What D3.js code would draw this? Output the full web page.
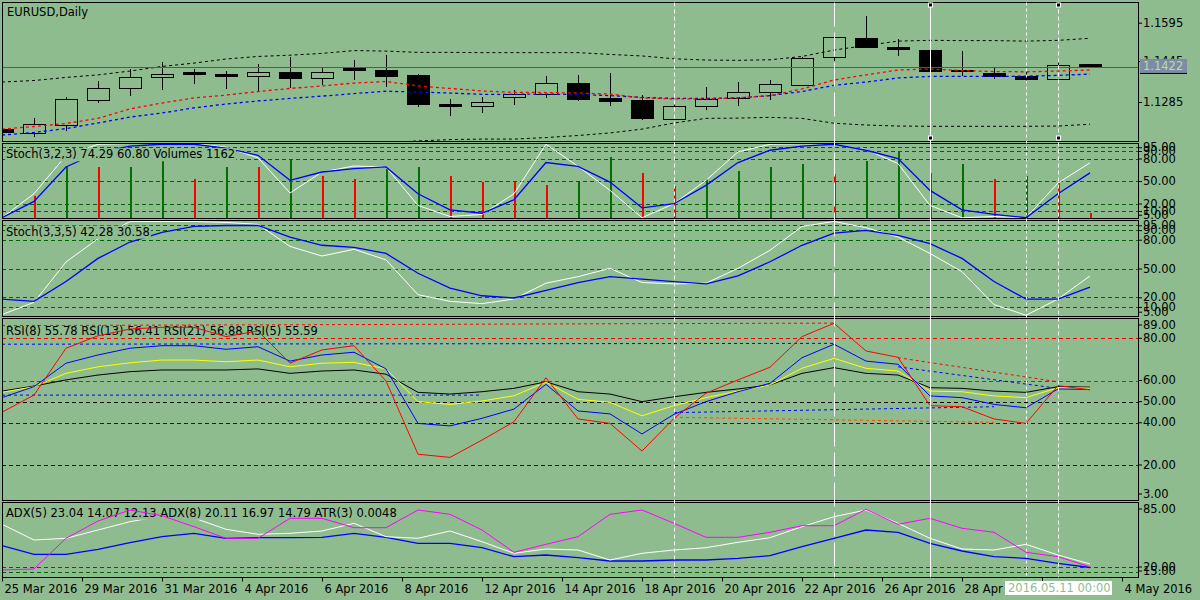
<!DOCTYPE html>
<html>
<head>
<meta charset="utf-8">
<script src="https://cdn.jsdelivr.net/npm/d3@7"></script>
<style>
  body { margin: 0; background: #8fbc8f; }
  svg text { font-family: "DejaVu Sans", sans-serif; font-size: 11.5px; }
</style>
</head>
<body>
<svg id="chart"></svg>
<script>
// EURUSD daily candles, one per bar index
var candleOpen  = [1.1176, 1.1163, 1.1192, 1.1292, 1.1337, 1.1382, 1.1402, 1.1391, 1.1384, 1.1402, 1.1376, 1.1419, 1.1410, 1.1387, 1.1277, 1.1267, 1.1303, 1.1316, 1.1359, 1.1297, 1.1289, 1.1217, 1.1267, 1.1299, 1.1323, 1.1349, 1.1460, 1.1534, 1.1500, 1.1488, 1.1409, 1.1398, 1.1385, 1.1374, 1.1430];
var candleHigh  = [1.1183, 1.1222, 1.1305, 1.1367, 1.1413, 1.1441, 1.1414, 1.1406, 1.1434, 1.1460, 1.1419, 1.1449, 1.1469, 1.1394, 1.1297, 1.1305, 1.1332, 1.1387, 1.1391, 1.1398, 1.1312, 1.1281, 1.1342, 1.1363, 1.1371, 1.1460, 1.1538, 1.1621, 1.1530, 1.1495, 1.1484, 1.1419, 1.1414, 1.1448, 1.1430];
var candleLow   = [1.1160, 1.1149, 1.1172, 1.1282, 1.1310, 1.1333, 1.1357, 1.1337, 1.1327, 1.1339, 1.1350, 1.1371, 1.1345, 1.1267, 1.1231, 1.1243, 1.1274, 1.1302, 1.1290, 1.1269, 1.1215, 1.1217, 1.1254, 1.1269, 1.1293, 1.1349, 1.1446, 1.1497, 1.1466, 1.1384, 1.1385, 1.1375, 1.1360, 1.1374, 1.1417];
var candleClose = [1.1165, 1.1198, 1.1293, 1.1339, 1.1382, 1.1393, 1.1392, 1.1384, 1.1401, 1.1376, 1.1401, 1.1407, 1.1384, 1.1274, 1.1267, 1.1284, 1.1314, 1.1358, 1.1294, 1.1286, 1.1220, 1.1268, 1.1296, 1.1323, 1.1354, 1.1456, 1.1538, 1.1497, 1.1489, 1.1403, 1.1403, 1.1385, 1.1372, 1.1428, 1.1422];

// moving averages and bands on the price pane
var maFast  = [1.1179, 1.1189, 1.1201, 1.1221, 1.1258, 1.1281, 1.1301, 1.1312, 1.1326, 1.1338, 1.1348, 1.1359, 1.1365, 1.1348, 1.1338, 1.1328, 1.1323, 1.1322, 1.1320, 1.1316, 1.1301, 1.1297, 1.1297, 1.1301, 1.1310, 1.1336, 1.1371, 1.1391, 1.1410, 1.1414, 1.1408, 1.1404, 1.1403, 1.1406, 1.1410];
var maSlow  = [1.1156, 1.1166, 1.1181, 1.1203, 1.1226, 1.1242, 1.1262, 1.1277, 1.1289, 1.1299, 1.1308, 1.1318, 1.1327, 1.1324, 1.1320, 1.1315, 1.1315, 1.1316, 1.1314, 1.1310, 1.1303, 1.1299, 1.1299, 1.1301, 1.1310, 1.1326, 1.1350, 1.1363, 1.1379, 1.1385, 1.1385, 1.1385, 1.1386, 1.1389, 1.1394];
var bandUp  = [1.1363, 1.1369, 1.1381, 1.1391, 1.1406, 1.1424, 1.1437, 1.1453, 1.1463, 1.1468, 1.1475, 1.1486, 1.1484, 1.1479, 1.1479, 1.1478, 1.1478, 1.1478, 1.1478, 1.1471, 1.1465, 1.1454, 1.1449, 1.1448, 1.1450, 1.1463, 1.1488, 1.1506, 1.1523, 1.1526, 1.1525, 1.1525, 1.1523, 1.1526, 1.1534];
var bandLow = [1.0941, 1.0949, 1.0961, 1.0972, 1.0988, 1.1004, 1.1019, 1.1039, 1.1058, 1.1078, 1.1097, 1.1113, 1.1125, 1.1133, 1.1138, 1.1140, 1.1140, 1.1146, 1.1154, 1.1164, 1.1179, 1.1203, 1.1221, 1.1222, 1.1225, 1.1221, 1.1202, 1.1195, 1.1191, 1.1190, 1.1190, 1.1190, 1.1190, 1.1191, 1.1198];
var priceTicks = [1.1595, 1.1445, 1.1285];

// Stoch(3,2,3) + Volumes
var volumes = [9000, 5060, 11660, 11290, 11440, 13130, 8730, 11440, 11290, 13130, 9460, 8730, 10930, 11290, 9310, 8140, 7990, 7480, 8070, 13640, 9970, 7260, 8800, 10560, 11440, 12100, 9750, 12760, 14960, 10120, 12100, 8800, 9310, 7770, 1162];
var stochAMain   = [1, 33, 84, 99, 100, 100, 100, 95, 81, 34, 62, 70, 68.7, 17.4, 2.7, 5.4, 33, 99, 69.6, 37.5, 1, 19.7, 50.9, 88.8, 99, 99.7, 99, 92, 73.2, 17.4, 1, 2.7, 1, 47.3, 74.29];
var stochASignal = [1, 22.8, 68.7, 88, 96.4, 99, 99, 93.7, 84.3, 50.9, 62, 66.5, 68.7, 33, 11.6, 7, 25, 74.6, 69.6, 48.6, 14.3, 19.7, 44.2, 74.6, 91, 96.4, 99, 91, 80, 37.5, 11.6, 5.4, 1, 33, 60.8];

// Stoch(3,3,5)
var stochBMain   = [2, 14.7, 56.8, 81, 99, 99, 99, 98, 96, 73, 63, 70, 59, 22.7, 15.8, 13.4, 18.2, 34.7, 41.5, 50.2, 35.4, 34, 34.7, 50.2, 69, 93.8, 99, 92.5, 82.8, 65.7, 46.7, 12.4, 1.3, 18.2, 42.28];
var stochBSignal = [18.2, 15.8, 36.4, 60.5, 77.6, 87.6, 93.8, 94.8, 94.8, 82.8, 74.2, 71.9, 65.7, 45, 29.6, 21.6, 19.3, 27.1, 35.4, 41.5, 38.9, 36.4, 34, 42.3, 57, 74.2, 86.9, 89.7, 84.5, 76, 60.5, 36.4, 18.2, 18.2, 30.58];
var stochLevels = [95, 90, 80, 50, 20, 10];
var stochTicks  = [95, 90, 80, 50, 20, 10, 5];

// RSI(5), RSI(8), RSI(13), RSI(21)
var rsi5  = [45, 53.1, 75.3, 81.2, 84.4, 85.2, 85.2, 80.8, 83.5, 68.2, 74.5, 76.5, 59.8, 25.1, 23.6, 31.8, 40.5, 61.3, 41.8, 39.7, 26.6, 42.1, 54, 60.3, 66.3, 80.8, 87.1, 74, 71, 48.1, 47.6, 41.8, 39.7, 57.6, 55.59];
var rsi8  = [51.9, 57.1, 68.2, 72.1, 75.3, 76.5, 76.5, 74.8, 76, 69.2, 72.1, 73.4, 65.5, 39.7, 38.5, 42.1, 46.5, 58.2, 45.6, 44.2, 34.7, 44, 50, 54.7, 58.7, 70.8, 77.2, 69.2, 67.7, 52.7, 51.9, 48.7, 47.1, 56, 55.78];
var rsi13 = [54.4, 57.1, 63.4, 66.5, 68.4, 69.7, 69.7, 68.9, 69.7, 66.5, 68.2, 68.6, 65.5, 50, 48.7, 50.3, 52.8, 59.2, 51.1, 49.7, 43.3, 48.1, 51.9, 55, 57.9, 65.8, 70.5, 65.8, 64.5, 55, 54.7, 52.7, 51.9, 56.6, 56.41];
var rsi21 = [55, 57.4, 60.3, 62.6, 64.2, 65, 65, 65, 65.5, 63.4, 64.5, 65, 63, 54.4, 53.6, 54.7, 56.3, 59.4, 54.7, 53.6, 50, 52.3, 54.4, 56, 57.9, 63.4, 66.1, 63.4, 62.6, 56.6, 56.3, 55, 54.4, 57.1, 56.88];
var rsiTicks = [89, 80, 60, 50, 40, 20, 3];
// trend lines drawn on the RSI window: [bar, value] pairs
var rsiRedTop    = [[0, 86.0], [26, 87.2]];
var rsiBlueTop   = [[0, 77.2], [26, 77.6]];
var rsiBlueLeft  = [[0, 53.1], [15, 53.1]];
var rsiBlueMid   = [[21, 44.8], [31, 47.6]];
var rsiOrangeMid = [[21, 42.6], [31, 40.2]];
var rsiRedDown   = [[28, 70.8], [33, 59.4]];
var rsiBlueDown  = [[28, 66.5], [33, 56.3]];

// ADX(5) / ADX(8)
var adxMagenta = [17, 18, 48.7, 66, 77, 71.3, 60.3, 48.7, 48.7, 68.7, 68.7, 59.3, 59.3, 77, 72.7, 57, 34.7, 42.7, 50.3, 72.7, 77, 63.7, 49.7, 49.7, 54.7, 61.3, 61.3, 77.7, 62.7, 68.7, 58.7, 54.7, 34.7, 30.3, 20.11];
var adxWhite   = [62.7, 47, 48.7, 57, 65.3, 71, 69, 57.7, 52.7, 53.7, 56, 63.7, 50.3, 48.7, 56, 45.3, 33.7, 38, 37, 27, 33.7, 37, 39.3, 44.7, 49.3, 60.3, 70.3, 77, 63.7, 48.7, 38, 37, 42.7, 32, 23.04];
var adxBlue    = [41.3, 32.7, 32.7, 37.7, 44.3, 50.3, 53.7, 48.7, 49.3, 49.3, 49.7, 53.7, 49.7, 43.7, 43.7, 39.3, 30.3, 32, 29.3, 26, 26, 27, 27, 28.7, 31.3, 40.3, 48.7, 57, 54.7, 43.7, 36, 30.3, 28.7, 23.7, 19.5];
var adxLevels = [20, 15];
var adxTicks  = [85, 20, 15];

// time axis (the label at 32.5 sits under the cursor box, so it is left blank)
var tickIndex  = [0, 2.5, 5, 7.5, 10, 12.5, 15, 17.5, 20, 22.5, 25, 27.5, 30, 32.5, 35];
var tickLabels = ["25 Mar 2016", "29 Mar 2016", "31 Mar 2016", "4 Apr 2016", "6 Apr 2016", "8 Apr 2016", "12 Apr 2016", "14 Apr 2016", "18 Apr 2016", "20 Apr 2016", "22 Apr 2016", "26 Apr 2016", "28 Apr 2016", "", "4 May 2016"];
var cursorLabel = "2016.05.11 00:00";

// vertical lines and selected points
var vlineBars = [21, 26, 29, 32, 33];
var markedBars = [29, 33];

var svgWidth = 1200, svgHeight = 600;
var left = 2, right = 1138;
var bg = "#8fbc8f";

var svg = d3.select("#chart")
  .attr("width", svgWidth)
  .attr("height", svgHeight);

svg.append("rect")
  .attr("width", svgWidth)
  .attr("height", svgHeight)
  .attr("fill", bg);

var panes = {
  main: [2.5, 141.5],
  st1: [143.5, 218.5],
  st2: [220.5, 316.5],
  rsi: [318.5, 500.5],
  adx: [502.5, 577.5]
};

var defs = svg.append("defs");

function paneGroup(name) {
  var p = panes[name];
  defs.append("clipPath").attr("id", "clip-" + name)
    .append("rect")
    .attr("x", left).attr("y", p[0])
    .attr("width", right - left).attr("height", p[1] - p[0]);
  return svg.append("g").attr("clip-path", "url(#clip-" + name + ")");
}

var x = d3.scaleLinear().domain([0, 34]).range([2, 1090]);

var yPrice = d3.scaleLinear().domain([1.1285, 1.1595]).range([102, 22.7]);
var yStA = d3.scaleLinear().domain([0, 100]).range([218.5, 143.5]);
var yVol = d3.scaleLinear().domain([0, 16500]).range([218.5, 143.5]);
var yStB = d3.scaleLinear().domain([0, 100]).range([316.5, 220.5]);
var yRsi = d3.scaleLinear().domain([20, 80]).range([465, 338.3]);
var yAdx = d3.scaleLinear().domain([20, 85]).range([567, 502]);

function drawSeries(g, data, yScale, color, width, dash) {
  var line = d3.line()
    .x(function(d, i) { return x(i); })
    .y(function(d) { return yScale(d); });
  g.append("path")
    .datum(data)
    .attr("d", line)
    .attr("fill", "none")
    .attr("stroke", color)
    .attr("stroke-width", width)
    .attr("stroke-dasharray", dash || null);
}

function drawPairs(g, pts, yScale, color) {
  var line = d3.line()
    .x(function(d) { return x(d[0]); })
    .y(function(d) { return yScale(d[1]); });
  g.append("path")
    .datum(pts)
    .attr("d", line)
    .attr("fill", "none")
    .attr("stroke", color)
    .attr("stroke-dasharray", "3,3");
}

function drawLevels(g, vals, yScale, color) {
  g.selectAll(null)
    .data(vals)
    .enter()
    .append("line")
    .attr("x1", left).attr("x2", right)
    .attr("y1", function(d) { return Math.round(yScale(d)) + 0.5; })
    .attr("y2", function(d) { return Math.round(yScale(d)) + 0.5; })
    .attr("stroke", color)
    .attr("stroke-dasharray", "4,3");
}

function paneLabel(g, txt, ty, withBg) {
  var t = g.append("text")
    .attr("x", 6)
    .attr("y", ty)
    .attr("fill", "#000")
    .text(txt);
  if (withBg) {
    var b = t.node().getBBox();
    g.insert("rect", function() { return t.node(); })
      .attr("x", b.x - 1).attr("y", b.y + 1)
      .attr("width", b.width + 2).attr("height", b.height - 1)
      .attr("fill", bg);
  }
}

function rightAxis(yScale, vals, fmt, pane, clampEdges) {
  var g = svg.append("g")
    .attr("transform", "translate(" + right + ",0)")
    .call(d3.axisRight(yScale).tickValues(vals).tickFormat(d3.format(fmt)).tickSize(4).tickPadding(1));
  g.select(".domain").remove();
  g.selectAll("line").attr("stroke", "#000");
  g.selectAll("text").attr("fill", "#000");
  if (clampEdges) {
    var p = panes[pane];
    g.selectAll(".tick").attr("transform", function(d) {
      var yy = Math.max(p[0] + 6.5, Math.min(p[1] - 6.5, yScale(d)));
      return "translate(0," + yy + ")";
    });
  }
}

// ---------- price pane ----------
var mainG = paneGroup("main");

var candles = candleOpen.map(function(o, i) {
  return { i: i, o: o, h: candleHigh[i], l: candleLow[i], c: candleClose[i] };
});

var cg = mainG.append("g").attr("shape-rendering", "crispEdges");

cg.selectAll(".wickTop")
  .data(candles)
  .enter()
  .append("line")
  .attr("x1", function(d) { return x(d.i) + 0.5; })
  .attr("x2", function(d) { return x(d.i) + 0.5; })
  .attr("y1", function(d) { return yPrice(d.h); })
  .attr("y2", function(d) { return yPrice(Math.max(d.o, d.c)); })
  .attr("stroke", "#000");

cg.selectAll(".wickBottom")
  .data(candles)
  .enter()
  .append("line")
  .attr("x1", function(d) { return x(d.i) + 0.5; })
  .attr("x2", function(d) { return x(d.i) + 0.5; })
  .attr("y1", function(d) { return yPrice(Math.min(d.o, d.c)); })
  .attr("y2", function(d) { return yPrice(d.l); })
  .attr("stroke", "#000");

cg.selectAll(".body")
  .data(candles)
  .enter()
  .append("rect")
  .attr("x", function(d) { return x(d.i) - 11; })
  .attr("width", 22)
  .attr("y", function(d) { return yPrice(Math.max(d.o, d.c)); })
  .attr("height", function(d) { return Math.max(1, yPrice(Math.min(d.o, d.c)) - yPrice(Math.max(d.o, d.c))); })
  .attr("fill", function(d) { return d.c < d.o ? "#000" : "none"; })
  .attr("stroke", "#000");

drawSeries(mainG, bandUp, yPrice, "#000", 1, "3,3");
drawSeries(mainG, bandLow, yPrice, "#000", 1, "3,3");
drawSeries(mainG, maSlow, yPrice, "#0000ff", 1.3, "3,3");
drawSeries(mainG, maFast, yPrice, "#ff0000", 1.3, "3,3");

var lastClose = candleClose[candleClose.length - 1];
mainG.append("line")
  .attr("x1", left).attr("x2", right)
  .attr("y1", Math.round(yPrice(lastClose)) + 0.5)
  .attr("y2", Math.round(yPrice(lastClose)) + 0.5)
  .attr("stroke", "#4e5a72")
  .attr("stroke-width", 1.2);

mainG.append("text")
  .attr("x", 7).attr("y", 15.7)
  .attr("fill", "#000")
  .text("EURUSD,Daily");

rightAxis(yPrice, priceTicks, ".4f", "main", false);

// ---------- Stoch(3,2,3) + Volumes ----------
var stAG = paneGroup("st1");
drawLevels(stAG, stochLevels, yStA, "#006400");

// green when volume rose against the previous bar, red when it fell;
// the first bar sits on the left frame, so its stick is not drawn
var volBars = volumes.map(function(v, i) {
  return { i: i, v: v, up: i === 0 || v >= volumes[i - 1] };
}).filter(function(d) { return d.i > 0; });

stAG.append("g").attr("shape-rendering", "crispEdges")
  .selectAll("line")
  .data(volBars)
  .enter()
  .append("line")
  .attr("x1", function(d) { return x(d.i) + 0.5; })
  .attr("x2", function(d) { return x(d.i) + 0.5; })
  .attr("y1", yVol(0))
  .attr("y2", function(d) { return yVol(d.v); })
  .attr("stroke", function(d) { return d.up ? "#007000" : "#ff0000"; })
  .attr("stroke-width", 2);

drawSeries(stAG, stochAMain, yStA, "#ffffff", 1);
drawSeries(stAG, stochASignal, yStA, "#0000ff", 1.3);
paneLabel(stAG, "Stoch(3,2,3) 74.29 60.80 Volumes 1162", 158.3, true);
rightAxis(yStA, stochTicks, ".2f", "st1", false);

// ---------- Stoch(3,3,5) ----------
var stBG = paneGroup("st2");
drawLevels(stBG, stochLevels, yStB, "#006400");
drawSeries(stBG, stochBMain, yStB, "#ffffff", 1);
drawSeries(stBG, stochBSignal, yStB, "#0000ff", 1.3);
paneLabel(stBG, "Stoch(3,3,5) 42.28 30.58", 235.7, true);
rightAxis(yStB, stochTicks, ".2f", "st2", false);

// ---------- RSI ----------
var rsiG = paneGroup("rsi");
drawLevels(rsiG, [80, 60], yRsi, "#ff0000");
drawLevels(rsiG, [50], yRsi, "#000000");
drawLevels(rsiG, [40, 20], yRsi, "#0000ff");
drawPairs(rsiG, rsiRedTop, yRsi, "#ff0000");
drawPairs(rsiG, rsiBlueTop, yRsi, "#0000ff");
drawPairs(rsiG, rsiBlueLeft, yRsi, "#0000ff");
drawPairs(rsiG, rsiBlueMid, yRsi, "#0000ff");
drawPairs(rsiG, rsiOrangeMid, yRsi, "#ff4500");
drawPairs(rsiG, rsiRedDown, yRsi, "#ff0000");
drawPairs(rsiG, rsiBlueDown, yRsi, "#0000ff");
paneLabel(rsiG, "RSI(8) 55.78 RSI(13) 56.41 RSI(21) 56.88 RSI(5) 55.59", 335, false);
drawSeries(rsiG, rsi21, yRsi, "#000000", 1);
drawSeries(rsiG, rsi13, yRsi, "#ffff00", 1);
drawSeries(rsiG, rsi8, yRsi, "#0000ff", 1);
drawSeries(rsiG, rsi5, yRsi, "#ff0000", 1);
rightAxis(yRsi, rsiTicks, ".2f", "rsi", true);

// ---------- ADX ----------
var adxG = paneGroup("adx");
drawLevels(adxG, adxLevels, yAdx, "#006400");
drawSeries(adxG, adxBlue, yAdx, "#0000ff", 1.3);
drawSeries(adxG, adxWhite, yAdx, "#ffffff", 1);
paneLabel(adxG, "ADX(5) 23.04 14.07 12.13 ADX(8) 20.11 16.97 14.79 ATR(3) 0.0048", 516.7, true);
drawSeries(adxG, adxMagenta, yAdx, "#ff00ff", 1);
rightAxis(yAdx, adxTicks, ".2f", "adx", true);

// ---------- pane frames ----------
Object.keys(panes).forEach(function(k) {
  var p = panes[k];
  svg.append("rect")
    .attr("x", left + 0.5).attr("y", p[0])
    .attr("width", right - left).attr("height", p[1] - p[0])
    .attr("fill", "none")
    .attr("stroke", "#000");
});

// ---------- time axis ----------
var xAxis = svg.append("g")
  .attr("transform", "translate(0," + panes.adx[1] + ")")
  .call(d3.axisBottom(x)
    .tickValues(tickIndex)
    .tickFormat(function(d, i) { return tickLabels[i]; })
    .tickSize(4));
xAxis.select(".domain").remove();
xAxis.selectAll("line").attr("stroke", "#000");
xAxis.selectAll("text")
  .attr("text-anchor", "start")
  .attr("x", 2)
  .attr("fill", "#000");

// ---------- vertical lines ----------
var vlineDash = ["4,3", "24,6", null, "3,3", "4,3"];
svg.selectAll(".vline")
  .data(vlineBars)
  .enter()
  .append("line")
  .attr("x1", function(d) { return x(d) + 0.5; })
  .attr("x2", function(d) { return x(d) + 0.5; })
  .attr("y1", panes.main[0])
  .attr("y2", panes.adx[1])
  .attr("stroke", "#ffffff")
  .attr("stroke-dasharray", function(d, i) { return vlineDash[i]; });

markedBars.forEach(function(b) {
  [5, 138].forEach(function(yy) {
    svg.append("rect")
      .attr("x", x(b) - 1.5).attr("y", yy - 2)
      .attr("width", 4).attr("height", 4)
      .attr("fill", "#000")
      .attr("stroke", "#ffffff");
  });
});

// ---------- last price tag ----------
var tagY = yPrice(lastClose);
svg.append("rect")
  .attr("x", 1140).attr("y", tagY - 8)
  .attr("width", 47).attr("height", 14)
  .attr("fill", "#7d8ca4");
svg.append("line")
  .attr("x1", 1140).attr("x2", 1187)
  .attr("y1", tagY + 6.5).attr("y2", tagY + 6.5)
  .attr("stroke", "#000");
svg.append("text")
  .attr("x", 1143).attr("y", tagY + 3.5)
  .attr("fill", "#b5dcae")
  .text(d3.format(".4f")(lastClose));

// ---------- cursor date box ----------
svg.append("rect")
  .attr("x", 1005).attr("y", 581)
  .attr("width", 107).attr("height", 14)
  .attr("fill", "#ffffff");
svg.append("text")
  .attr("x", 1008).attr("y", 592)
  .attr("fill", "#8fbc8f")
  .text(cursorLabel);
</script>
</body>
</html>
